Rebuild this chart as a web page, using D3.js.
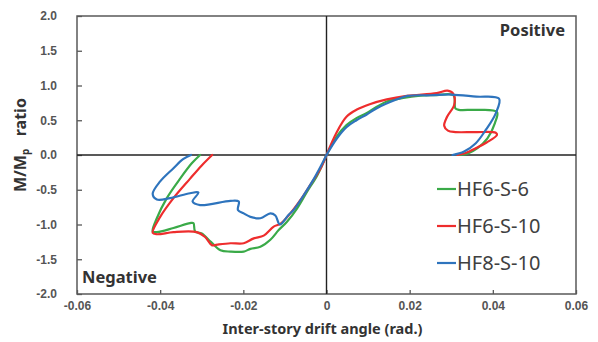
<!DOCTYPE html>
<html>
<head>
<meta charset="utf-8">
<script src="https://cdn.jsdelivr.net/npm/d3@7"></script>
<style>
  body { margin: 0; background: #fff; }
  svg { display: block; font-family: "Noto Sans", "DejaVu Sans", sans-serif; }
</style>
</head>
<body>
<svg id="chart"></svg>
<script>
// Hysteresis curves: [drift angle (rad), M/Mp]
const seriesNames = ["HF6-S-6", "HF6-S-10", "HF8-S-10"];
const seriesColors = ["#3aaa48", "#ee2d2d", "#2e74bd"];

const hf6s6Pos = [[0,0],[0.0024,0.26],[0.0048,0.43],[0.0072,0.53],[0.0096,0.60],[0.012,0.69],[0.0145,0.77],
  [0.0185,0.82],[0.022,0.85],[0.026,0.86],[0.0305,0.86],[0.031,0.67],[0.0318,0.65],[0.036,0.65],
  [0.041,0.62],[0.0405,0.46],[0.0387,0.24],[0.0363,0.10],[0.0339,0.02],[0.0315,0]];
const hf6s6Neg = [[0,0],[-0.0022,-0.29],[-0.0047,-0.53],[-0.0071,-0.77],[-0.0095,-0.96],[-0.0115,-1.08],
  [-0.0135,-1.22],[-0.0159,-1.32],[-0.0183,-1.35],[-0.0199,-1.39],[-0.0231,-1.39],[-0.0255,-1.37],
  [-0.0278,-1.25],[-0.030,-1.13],[-0.0316,-1.10],[-0.032,-0.98],[-0.0328,-0.98],[-0.0368,-1.05],
  [-0.0408,-1.11],[-0.0418,-1.10],[-0.0408,-0.91],[-0.0384,-0.62],[-0.0352,-0.34],[-0.0324,-0.12],[-0.0304,0]];

const hf6s10Pos = [[0,0],[0.0024,0.32],[0.0048,0.55],[0.0072,0.65],[0.0104,0.73],[0.0145,0.80],[0.0193,0.85],
  [0.0265,0.89],[0.0291,0.925],[0.0305,0.88],[0.0307,0.72],[0.029,0.55],[0.0283,0.42],[0.0292,0.35],
  [0.031,0.33],[0.036,0.33],[0.0407,0.32],[0.041,0.29],[0.0385,0.18],[0.036,0.10],[0.0335,0.03],[0.0315,0]];
const hf6s10Neg = [[0,0],[-0.0014,-0.19],[-0.0039,-0.43],[-0.0063,-0.65],[-0.0087,-0.84],[-0.0111,-0.99],
  [-0.0127,-1.03],[-0.0151,-1.16],[-0.0175,-1.20],[-0.0199,-1.27],[-0.0231,-1.27],[-0.0263,-1.29],
  [-0.0275,-1.30],[-0.0292,-1.18],[-0.0312,-1.11],[-0.0368,-1.11],[-0.0408,-1.14],[-0.0418,-1.12],
  [-0.040,-0.89],[-0.0368,-0.62],[-0.0328,-0.34],[-0.030,-0.15],[-0.0275,0]];

const hf8s10Pos = [[0,0],[0.0024,0.23],[0.0048,0.40],[0.0072,0.50],[0.0096,0.58],[0.012,0.67],[0.0165,0.79],
  [0.0195,0.85],[0.025,0.86],[0.030,0.87],[0.036,0.84],[0.0415,0.81],[0.0407,0.60],[0.0383,0.36],
  [0.0359,0.17],[0.0331,0.05],[0.0303,0]];
const hf8s10Neg = [[0,0],[-0.001,-0.12],[-0.003,-0.34],[-0.0055,-0.58],[-0.0079,-0.79],[-0.0091,-0.86],
  [-0.0112,-1.0],[-0.0123,-0.87],[-0.0135,-0.84],[-0.0159,-0.91],[-0.0183,-0.89],[-0.0199,-0.84],
  [-0.0213,-0.79],[-0.0211,-0.67],[-0.0231,-0.66],[-0.0304,-0.72],[-0.0322,-0.67],[-0.0308,-0.54],
  [-0.0328,-0.55],[-0.0376,-0.62],[-0.0408,-0.64],[-0.0418,-0.56],[-0.040,-0.38],[-0.0368,-0.19],
  [-0.0345,-0.06],[-0.0326,0]];

const curves = [[hf6s6Pos, hf6s6Neg], [hf6s10Pos, hf6s10Neg], [hf8s10Pos, hf8s10Neg]];

const xTicks = [-0.06, -0.04, -0.02, 0, 0.02, 0.04, 0.06];
const yTicks = [-2.0, -1.5, -1.0, -0.5, 0.0, 0.5, 1.0, 1.5, 2.0];

const width = 598, height = 342;
const margin = {top: 16, right: 22, bottom: 48, left: 77};

const svg = d3.select("#chart").attr("width", width).attr("height", height);

const x = d3.scaleLinear().domain([-0.06, 0.06]).range([margin.left, width - margin.right]);
const y = d3.scaleLinear().domain([-2, 2]).range([height - margin.bottom, margin.top]);

const axisColor = "#595959";
const textColor = "#555";

// axes with inner ticks
const xAxis = svg.append("g")
    .attr("transform", `translate(0,${y(-2)})`)
    .call(d3.axisBottom(x).tickValues(xTicks).tickSizeInner(-4).tickSizeOuter(0)
        .tickFormat(d => d === 0 ? "0" : d3.format(".2f")(d).replace("−", "-")));
const yAxis = svg.append("g")
    .attr("transform", `translate(${x(-0.06)},0)`)
    .call(d3.axisLeft(y).tickValues(yTicks).tickSizeInner(-5).tickSizeOuter(0)
        .tickFormat(d => d3.format(".1f")(d).replace("−", "-")));

[xAxis, yAxis].forEach(g => {
  g.select(".domain").remove();
  g.selectAll(".tick line").attr("stroke", axisColor).attr("stroke-width", 1.3);
  g.selectAll(".tick text").attr("fill", textColor).attr("font-size", 12).attr("font-weight", "bold");
});
xAxis.selectAll(".tick text").attr("y", 16).attr("dy", 0);
yAxis.selectAll(".tick text").attr("x", -20);

// frame
svg.append("rect")
    .attr("x", x(-0.06)).attr("y", y(2))
    .attr("width", x(0.06) - x(-0.06)).attr("height", y(-2) - y(2))
    .attr("fill", "none").attr("stroke", axisColor).attr("stroke-width", 1.5);

// zero lines
svg.append("line")
    .attr("x1", x(-0.06)).attr("x2", x(0.06)).attr("y1", y(0)).attr("y2", y(0))
    .attr("stroke", "#222").attr("stroke-width", 1.4);
svg.append("line")
    .attr("x1", x(0)).attr("x2", x(0)).attr("y1", y(2)).attr("y2", y(-2))
    .attr("stroke", "#222").attr("stroke-width", 1.4);

// curves
const line = d3.line().x(d => x(d[0])).y(d => y(d[1])).curve(d3.curveCatmullRom.alpha(0.5));
curves.forEach((pair, i) => {
  pair.forEach(pts => {
    svg.append("path")
        .datum(pts)
        .attr("d", line)
        .attr("fill", "none")
        .attr("stroke", seriesColors[i])
        .attr("stroke-width", 2.2)
        .attr("stroke-linejoin", "round")
        .attr("stroke-linecap", "round");
  });
});

// quadrant notes
svg.append("text").attr("x", 565).attr("y", 36).attr("text-anchor", "end")
    .attr("font-size", 16.5).attr("font-weight", "bold").attr("fill", "#333").text("Positive");
svg.append("text").attr("x", 82).attr("y", 283)
    .attr("font-size", 16.5).attr("font-weight", "bold").attr("fill", "#333").text("Negative");

// legend
const legend = svg.append("g");
seriesNames.forEach((name, i) => {
  const ly = 189 + i * 37;
  legend.append("line").attr("x1", 437).attr("x2", 456).attr("y1", ly).attr("y2", ly)
      .attr("stroke", seriesColors[i]).attr("stroke-width", 2.2);
  legend.append("text").attr("x", 457).attr("y", ly + 7)
      .attr("font-size", 20).attr("fill", "#404040").text(name);
});

// axis titles
svg.append("text").attr("x", x(0) - 4).attr("y", 334).attr("text-anchor", "middle")
    .attr("font-size", 14.5).attr("font-weight", "bold").attr("fill", "#333")
    .text("Inter-story drift angle (rad.)");

const yl = svg.append("text")
    .attr("transform", `translate(26,145) rotate(-90)`)
    .attr("text-anchor", "middle")
    .attr("font-size", 16).attr("font-weight", "bold").attr("fill", "#333");
yl.append("tspan").text("M/M");
yl.append("tspan").attr("font-size", 10).attr("dy", 3).text("p");
yl.append("tspan").attr("dy", -3).text("\u00a0\u00a0\u00a0ratio");
</script>
</body>
</html>
